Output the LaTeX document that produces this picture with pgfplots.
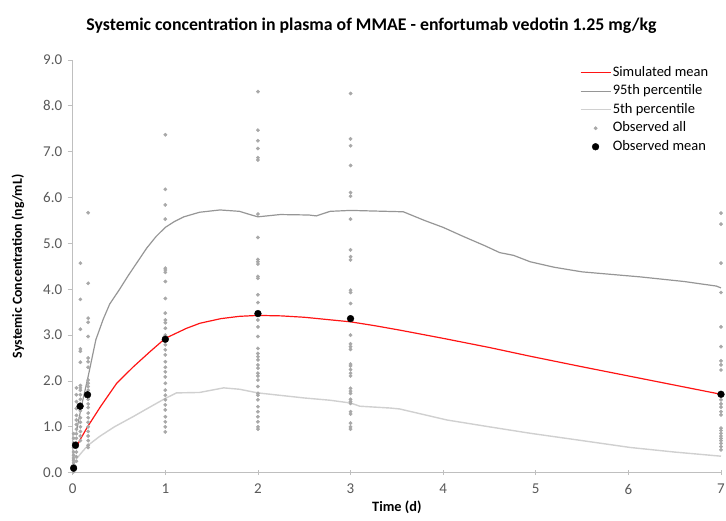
\documentclass[border=0pt]{standalone}
\usepackage{fontspec}
\setmainfont{Carlito}
\usepackage{pgfplots}
\usepackage{pgfplotstable}
\pgfplotsset{compat=1.18}
\definecolor{axgray}{RGB}{191,191,191}
\definecolor{tickgray}{RGB}{89,89,89}
\definecolor{pninety}{RGB}{150,150,150}
\definecolor{pfive}{RGB}{208,208,208}
\definecolor{obsgray}{RGB}{168,168,168}
\definecolor{simred}{RGB}{255,20,20}
\pgfplotsset{
  linelegend/.style={legend image code/.code={\draw[##1] (0pt,0pt) -- (30pt,0pt);}},
  dotlegend/.style={legend image code/.code={\draw[mark repeat=2,mark phase=2,##1] plot coordinates {(0pt,0pt) (15pt,0pt) (30pt,0pt)};}},
}

\pgfplotstableread{
t c
0.01 0.02
0.01 0.06
0.01 0.10
0.01 0.14
0.01 0.18
0.01 0.22
0.01 0.27
0.01 0.32
0.01 0.38
0.01 0.45
0.01 0.55
0.01 0.65
0.01 0.75
0.01 0.85
0.04 0.25
0.04 0.35
0.04 0.45
0.04 0.55
0.04 0.65
0.04 0.75
0.04 0.85
0.04 0.95
0.04 1.05
0.04 1.15
0.04 1.25
0.04 1.40
0.04 1.55
0.04 1.70
0.04 1.85
0.083 4.57
0.083 3.78
0.083 3.13
0.083 2.70
0.083 2.65
0.083 2.41
0.083 1.90
0.083 1.85
0.083 1.80
0.083 1.70
0.083 1.60
0.083 1.50
0.083 1.35
0.083 1.20
0.083 1.10
0.083 1.00
0.083 0.90
0.083 0.80
0.083 0.70
0.167 5.67
0.167 4.13
0.167 3.37
0.167 3.28
0.167 2.97
0.167 2.50
0.167 2.42
0.167 2.30
0.167 2.02
0.167 1.95
0.167 1.88
0.167 1.80
0.167 1.70
0.167 1.60
0.167 1.50
0.167 1.42
0.167 1.30
0.167 1.20
0.167 1.10
0.167 1.00
0.167 0.90
0.167 0.80
0.167 0.70
0.167 0.60
0.167 0.55
1 7.37
1 6.18
1 5.84
1 5.53
1 4.46
1 4.42
1 4.37
1 4.17
1 3.80
1 3.48
1 3.33
1 3.27
1 3.15
1 3.00
1 2.79
1 2.68
1 2.57
1 2.42
1 2.30
1 2.20
1 2.09
1 1.95
1 1.80
1 1.69
1 1.59
1 1.48
1 1.37
1 1.22
1 1.11
1 1.00
1 0.89
2 8.31
2 7.47
2 7.24
2 7.07
2 6.87
2 6.82
2 5.64
2 5.13
2 4.65
2 4.60
2 4.55
2 4.28
2 4.24
2 3.88
2 3.71
2 3.33
2 3.18
2 2.97
2 2.71
2 2.60
2 2.53
2 2.46
2 2.35
2 2.28
2 2.17
2 2.11
2 2.02
2 1.88
2 1.73
2 1.69
2 1.59
2 1.44
2 1.33
2 1.22
2 1.11
2 1.00
2 0.95
3 8.27
3 7.28
3 7.13
3 6.70
3 6.11
3 6.03
3 5.53
3 4.86
3 4.71
3 4.64
3 3.98
3 3.93
3 3.69
3 3.00
3 2.81
3 2.75
3 2.69
3 2.37
3 2.33
3 2.25
3 2.17
3 2.11
3 1.84
3 1.78
3 1.73
3 1.60
3 1.55
3 1.51
3 1.33
3 1.28
3 1.08
3 1.00
3 0.95
7 5.66
7 5.42
7 4.57
7 3.93
7 3.18
7 2.75
7 2.44
7 2.35
7 2.24
7 1.59
7 1.50
7 1.43
7 1.33
7 1.26
7 0.97
7 0.92
7 0.86
7 0.80
7 0.75
7 0.70
7 0.64
7 0.57
7 0.50
}\obsall

\pgfplotstableread{
t c
0.036 0.53
0.08 0.72
0.16 1.00
0.30 1.44
0.475 1.95
0.655 2.31
0.835 2.64
1.0 2.93
1.23 3.15
1.375 3.26
1.6 3.36
1.8 3.41
2.0 3.43
2.25 3.42
2.5 3.39
2.75 3.34
3.0 3.29
3.25 3.21
3.53 3.11
4.0 2.93
4.5 2.73
4.94 2.54
5.5 2.31
6.0 2.11
6.5 1.91
7.0 1.71
}\simmean

\pgfplotstableread{
t c
0.04 0.9
0.1 1.5
0.167 2.1
0.25 2.9
0.33 3.35
0.4 3.68
0.5 3.98
0.6 4.3
0.7 4.6
0.8 4.9
0.9 5.15
1.0 5.35
1.1 5.48
1.2 5.58
1.37 5.68
1.59 5.73
1.8 5.70
1.93 5.62
2.0 5.58
2.24 5.63
2.55 5.62
2.63 5.60
2.78 5.70
3.0 5.72
3.57 5.69
3.8 5.50
4.0 5.35
4.22 5.15
4.45 4.95
4.61 4.80
4.76 4.74
4.94 4.60
5.2 4.48
5.5 4.38
6.13 4.27
6.6 4.17
6.95 4.07
7.0 4.03
}\pninetyfive

\pgfplotstableread{
t c
0.04 0.30
0.1 0.45
0.167 0.60
0.29 0.79
0.45 1.00
0.65 1.22
0.85 1.45
1.0 1.62
1.12 1.74
1.37 1.75
1.63 1.85
1.8 1.82
2.0 1.74
2.5 1.63
2.78 1.58
3.0 1.52
3.1 1.45
3.43 1.41
3.53 1.39
4.04 1.15
4.5 1.00
4.94 0.86
5.5 0.70
6.02 0.55
6.5 0.45
7.0 0.36
}\pfifth

\pgfplotstableread{
t c
0.01 0.10
0.03 0.60
0.08 1.45
0.16 1.70
1 2.91
2 3.47
3 3.36
7 1.71
}\obsmean

\begin{document}
\begin{tikzpicture}
\useasboundingbox (-72.7pt,-47.3pt) rectangle (653.3pt,472.7pt);
\begin{axis}[
  at={(0pt,0pt)}, anchor=south west,
  scale only axis, width=648.3pt, height=412.7pt,
  xmin=0, xmax=7, ymin=0, ymax=9,
  clip=false,
  axis x line=bottom, axis y line=left,
  axis line style={axgray, line width=0.8pt, -},
  xtick={0,1,...,7}, ytick={0,1,...,9},
  tick align=outside, major tick length=5pt,
  tick style={axgray, line width=0.8pt},
  x tick style={yshift=2.5pt},
  /pgf/number format/assume math mode=true,
  yticklabel style={/pgf/number format/.cd, fixed, fixed zerofill, precision=1, /tikz/.cd, xshift=-2pt},
  xticklabel style={yshift=-3pt},
  ticklabel style={font=\fontsize{15}{17}\selectfont, text=tickgray},
  xlabel={Time (d)},
  ylabel={Systemic Concentration (ng/mL)},
  xlabel style={font=\bfseries\fontsize{14.3}{16}\selectfont, at={(axis description cs:0.5,-0.0831)}, anchor=center},
  ylabel style={font=\bfseries\fontsize{13.8}{16}\selectfont, at={(axis description cs:-0.0844,0.5)}, anchor=center},
  legend style={at={(0.782,0.989)}, anchor=north west, draw=none, fill=none,
    font=\fontsize{14.5}{16}\selectfont, row sep=2.5pt, inner sep=0pt,
    nodes={text height=10pt, text depth=3pt, inner sep=1.5pt}},
  legend cell align=left,
  linelegend,
]
\addplot[only marks, mark=*, mark size=1.7pt, mark options={obsgray, draw=obsgray, fill=obsgray}, forget plot] table[x=t,y=c]{\obsall};
\addplot[simred, line width=1.2pt, no marks] table[x=t,y=c]{\simmean};
\addlegendentry{Simulated mean}
\addplot[pninety, line width=1.2pt, no marks] table[x=t,y=c]{\pninetyfive};
\addlegendentry{95th percentile}
\addplot[pfive, line width=1.4pt, no marks] table[x=t,y=c]{\pfifth};
\addlegendentry{5th percentile}
\addlegendimage{only marks, mark=*, mark size=1.7pt, mark options={obsgray, draw=obsgray, fill=obsgray}, dotlegend}
\addlegendentry{Observed all}
\addplot[only marks, mark=*, mark size=3.4pt, mark options={black, fill=black}, dotlegend] table[x=t,y=c]{\obsmean};
\addlegendentry{Observed mean}
\end{axis}
\node[font=\bfseries\fontsize{17.8}{20}\selectfont] at (298.8pt,447.1pt) {Systemic concentration in plasma of MMAE - enfortumab vedotin 1.25 mg/kg};
\end{tikzpicture}
\end{document}
